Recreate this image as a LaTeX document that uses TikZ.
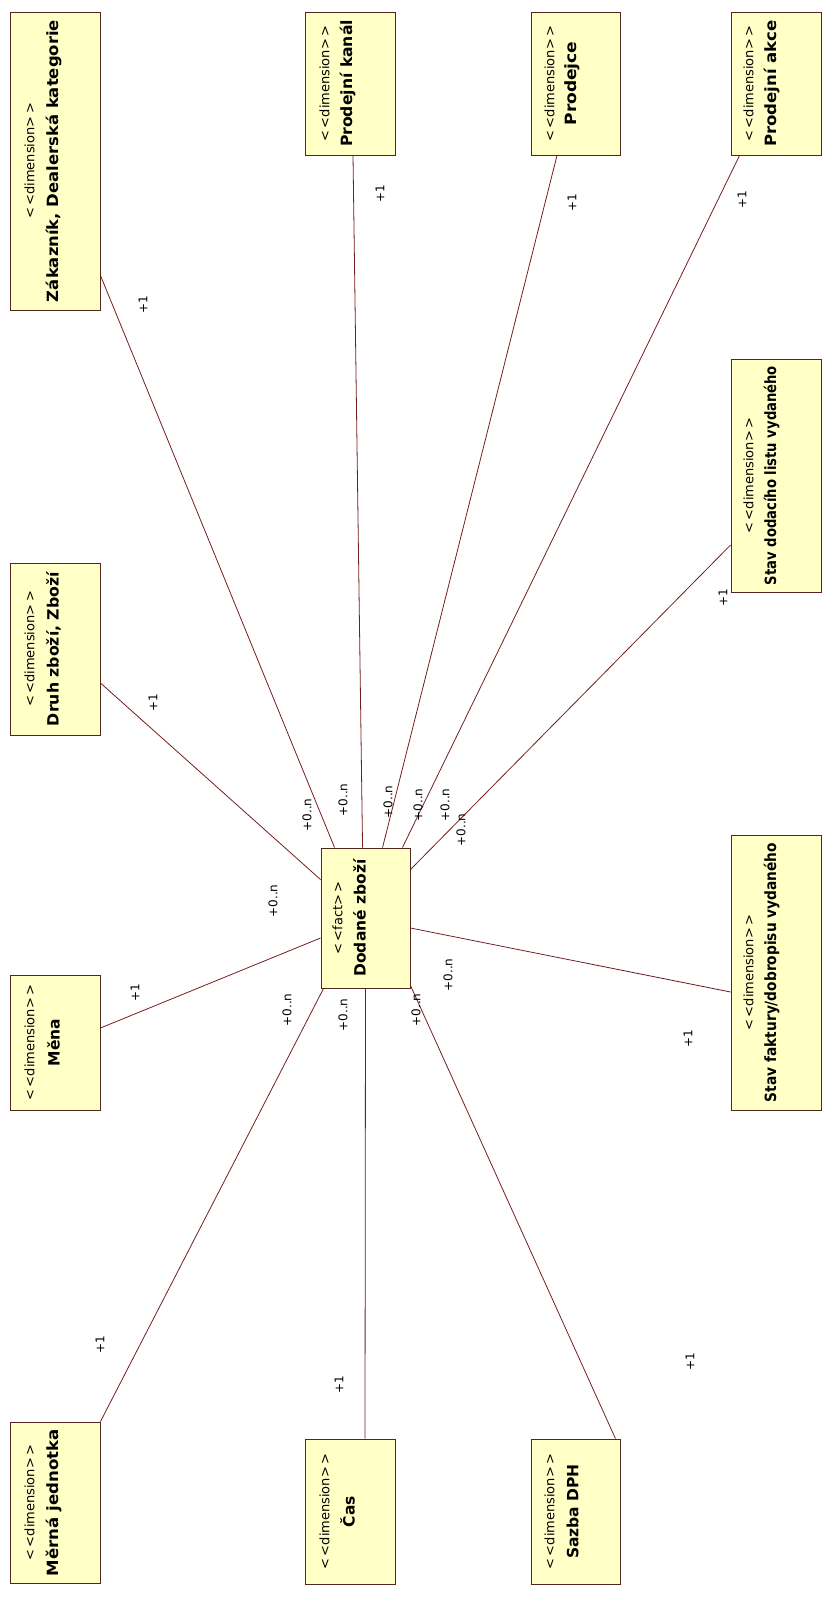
\documentclass[tikz,border=0pt]{standalone}
\usepackage{fontspec}
\usepackage{graphicx}
\setmainfont{DejaVu Sans}
\usetikzlibrary{calc}
\definecolor{boxfill}{RGB}{255,255,198}
\definecolor{boxline}{RGB}{80,40,30}
\definecolor{connc}{RGB}{115,30,30}
\newcommand{\stereotxt}[1]{<\kern2.5pt<#1>\kern2.5pt>}
\newdimen\fitlen
\newcommand{\fitname}[2]{\settowidth{\fitlen}{#2}\pgfmathsetmacro\fitfac{#1/\fitlen}\scalebox{\fitfac}[1]{#2}}
\begin{document}
\begin{tikzpicture}[x=1pt,y=-1pt,
  dim/.style={draw=boxline, fill=boxfill, line width=0.9pt, inner sep=0pt, minimum width=90pt},
  ster/.style={rotate=90, font=\fontsize{13}{13}\selectfont, inner sep=0pt},
  nm/.style={rotate=90, font=\fontsize{15.5}{16}\selectfont\bfseries, inner sep=0pt},
  lab/.style={rotate=90, font=\fontsize{12}{12}\selectfont, inner sep=0pt},
  conn/.style={draw=connc, line width=0.8pt}]
\useasboundingbox (0,0) rectangle (827,1597);

% boxes
\node[dim, minimum height=298pt] (zak) at (55,161) {};
\node[dim, minimum height=172pt] (druh) at (55,649) {};
\node[dim, minimum height=135pt] (mena) at (55,1042.5) {};
\node[dim, minimum height=161pt] (merna) at (55,1502.5) {};
\node[dim, minimum height=143pt] (kanal) at (350,83.5) {};
\node[dim, minimum height=145pt] (cas) at (350,1511.5) {};
\node[dim, minimum height=143pt, minimum width=89pt] (prodejce) at (575.5,83.5) {};
\node[dim, minimum height=145pt, minimum width=89pt] (sazba) at (575.5,1511.5) {};
\node[dim, minimum height=143pt] (akce) at (776,83.5) {};
\node[dim, minimum height=233pt] (dodaci) at (776,475.5) {};
\node[dim, minimum height=275pt] (faktury) at (776,972.5) {};
\node[dim, minimum height=140pt, minimum width=89pt] (fact) at (365.5,918) {};

% texts
\node[ster] (zakS) at ($(zak.west)+(20,0)$) {\stereotxt{dimension}};
\node[nm] (zakN) at ($(zak.west)+(44,0)$) {\fitname{282}{Zákazník, Dealerská kategorie}};
\node[ster] (druhS) at ($(druh.west)+(20,0)$) {\stereotxt{dimension}};
\node[nm] (druhN) at ($(druh.west)+(44,0)$) {\fitname{154}{Druh zboží, Zboží}};
\node[ster] (menaS) at ($(mena.west)+(20,0)$) {\stereotxt{dimension}};
\node[nm] (menaN) at ($(mena.west)+(44,0)$) {Měna};
\node[ster] (mernaS) at ($(merna.west)+(20,0)$) {\stereotxt{dimension}};
\node[nm] (mernaN) at ($(merna.west)+(44,0)$) {\fitname{147}{Měrná jednotka}};
\node[ster] (kanalS) at ($(kanal.west)+(20,0)$) {\stereotxt{dimension}};
\node[nm] (kanalN) at ($(kanal.west)+(43,0)$) {\fitname{127}{Prodejní kanál}};
\node[ster] (casS) at ($(cas.west)+(20,0)$) {\stereotxt{dimension}};
\node[nm] (casN) at ($(cas.west)+(43,0)$) {Čas};
\node[ster] (prodejceS) at ($(prodejce.west)+(19,0)$) {\stereotxt{dimension}};
\node[nm] (prodejceN) at ($(prodejce.west)+(42,0)$) {\fitname{84}{Prodejce}};
\node[ster] (sazbaS) at ($(sazba.west)+(19,0)$) {\stereotxt{dimension}};
\node[nm] (sazbaN) at ($(sazba.west)+(42,0)$) {Sazba DPH};
\node[ster] (akceS) at ($(akce.west)+(18,0)$) {\stereotxt{dimension}};
\node[nm] (akceN) at ($(akce.west)+(41,0)$) {\fitname{127}{Prodejní akce}};
\node[ster] (dodaciS) at ($(dodaci.west)+(18,0)$) {\stereotxt{dimension}};
\node[nm] (dodaciN) at ($(dodaci.west)+(41,0)$) {\fitname{219}{Stav dodacího listu vydaného}};
\node[ster] (fakturyS) at ($(faktury.west)+(18,0)$) {\stereotxt{dimension}};
\node[nm] (fakturyN) at ($(faktury.west)+(41,0)$) {\fitname{259}{Stav faktury/dobropisu vydaného}};
\node[ster] (factS) at ($(fact.west)+(17,0)$) {\stereotxt{fact}};
\node[nm] (factN) at ($(fact.west)+(39,0)$) {\fitname{117}{Dodané zboží}};

% connectors
\draw[conn] ($(zak.south east)+(0,-35)$) -- ($(fact.north west)+(14,0)$);
\draw[conn] ($(kanal.south)+(3,0)$) -- ($(fact.north west)+(42,0)$);
\draw[conn] ($(prodejce.south)+(-18.5,0)$) -- ($(fact.north west)+(62,0)$);
\draw[conn] ($(akce.south west)+(9,0)$) -- ($(fact.north east)+(-8,0)$);
\draw[conn] ($(dodaci.west)+(0,69.5)$) -- ($(fact.north east)+(0,22)$);
\draw[conn] ($(faktury.west)+(0,19.5)$) -- ($(fact.east)+(0,10)$);
\draw[conn] ($(sazba.north east)+(-5,0)$) -- ($(fact.south east)+(0,-3)$);
\draw[conn] ($(cas.north)+(15,0)$) -- ($(fact.south)+(0,0)$);
\draw[conn] (merna.north east) -- ($(fact.south west)+(3,0)$);
\draw[conn] ($(mena.east)+(0,-14.5)$) -- ($(fact.west)+(0,20)$);
\draw[conn] ($(druh.east)+(0,34)$) -- ($(fact.north west)+(0,32)$);

% multiplicities near dimensions
\node[lab] (l1zak) at (143,305) {+1};
\node[lab] (l1kanal) at (380,194) {+1};
\node[lab] (l1prodejce) at (572,203) {+1};
\node[lab] (l1akce) at (742,200) {+1};
\node[lab] (l1dodaci) at (723,598) {+1};
\node[lab] (l1faktury) at (688,1039) {+1};
\node[lab] (l1sazba) at (690,1362) {+1};
\node[lab] (l1cas) at (339,1385) {+1};
\node[lab] (l1merna) at (100,1345) {+1};
\node[lab] (l1mena) at (135,993) {+1};
\node[lab] (l1druh) at (153,703) {+1};

% multiplicities near fact
\node[lab] (lnzak) at (343,800) {+0..n};
\node[lab] (lnkanal) at (388,802) {+0..n};
\node[lab] (lnprodejce) at (418,805) {+0..n};
\node[lab] (lnakce) at (445,805) {+0..n};
\node[lab] (lndodaci) at (461,830) {+0..n};
\node[lab] (lndruh) at (307,815) {+0..n};
\node[lab] (lnmena) at (273,901) {+0..n};
\node[lab] (lnmerna) at (287,1010) {+0..n};
\node[lab] (lncas) at (343,1015) {+0..n};
\node[lab] (lnsazba) at (416,1010) {+0..n};
\node[lab] (lnfaktury) at (448,975) {+0..n};
\end{tikzpicture}
\end{document}
